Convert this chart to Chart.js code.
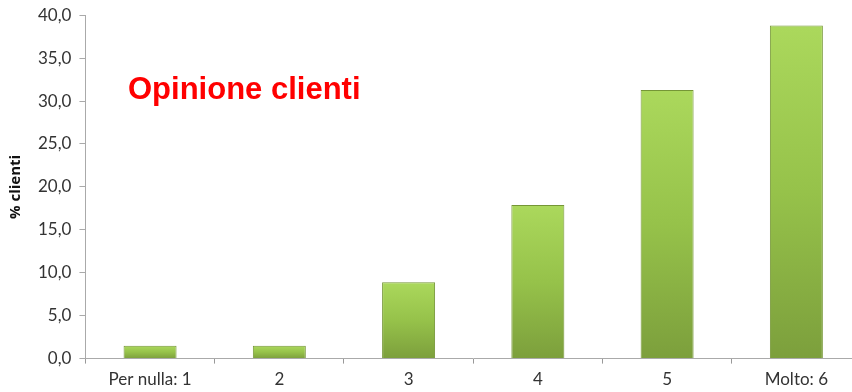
<!DOCTYPE html>
<html><head><meta charset="utf-8">
<script src="https://cdn.jsdelivr.net/npm/chart.js@4/dist/chart.umd.min.js"></script>
<style>html,body{margin:0;padding:0;background:#fff;overflow:hidden}#wrap{width:861px;height:399px;margin-top:-3px}</style>
</head><body><div id="wrap"><canvas id="c"></canvas></div>
<script>
const categories = ["Per nulla: 1", "2", "3", "4", "5", "Molto: 6"];
const values = [1.5, 1.5, 8.9, 17.9, 31.3, 38.8];
const chartTitle = "Opinione clienti";
const yTitle = "% clienti";

function barFill(ctx) {
  const chart = ctx.chart;
  const ys = chart.scales && chart.scales.y;
  if (!chart.chartArea || !ys || ctx.type !== 'data') return '#9bc94a';
  const top = ys.getPixelForValue(ctx.raw);
  const base = ys.getPixelForValue(0);
  const g = chart.ctx.createLinearGradient(0, top, 0, Math.max(base, top + 1));
  g.addColorStop(0, '#abd85c');
  g.addColorStop(0.5, '#96c24a');
  g.addColorStop(1, '#7c9f3c');
  return g;
}
const titlePlugin = {
  id: 'insideTitle',
  afterDraw(chart) {
    const c = chart.ctx;
    c.save();
    c.font = 'bold 31px "Liberation Sans", Arial, sans-serif';
    c.fillStyle = '#ff0000';
    c.textBaseline = 'middle';
    c.fillText(chartTitle, 128, 93);
    c.restore();
  }
};
new Chart(document.getElementById('c'), {
  type: 'bar',
  data: { labels: categories, datasets: [{ data: values, backgroundColor: barFill, borderColor: '#759636', borderWidth: 1, barPercentage: 0.41, categoryPercentage: 1 }] },
  options: {
    responsive: true, maintainAspectRatio: false, animation: false,
    layout: { padding: { top: 1, right: 0, left: 2, bottom: 0 } },
    plugins: { legend: { display: false }, tooltip: { enabled: false } },
    scales: {
      x: {
        grid: { offset: true, drawOnChartArea: false, tickLength: 5, color: '#999' },
        border: { color: '#aaa' },
        ticks: { color: '#333', font: { size: 17, family: 'Lato, sans-serif' }, padding: 6 }
      },
      y: {
        min: 0, max: 40,
        grid: { drawOnChartArea: false, tickLength: 6, color: '#aaa' },
        border: { color: '#aaa' },
        ticks: { stepSize: 5, color: '#333', font: { size: 17, family: 'Lato, sans-serif' }, padding: 8,
          callback: v => v.toFixed(1).replace('.', ',') },
        title: { display: true, text: yTitle, color: '#111', font: { size: 15, weight: 'bold', family: '"Open Sans", sans-serif' }, padding: 5 }
      }
    }
  },
  plugins: [titlePlugin]
});
</script></body></html>
